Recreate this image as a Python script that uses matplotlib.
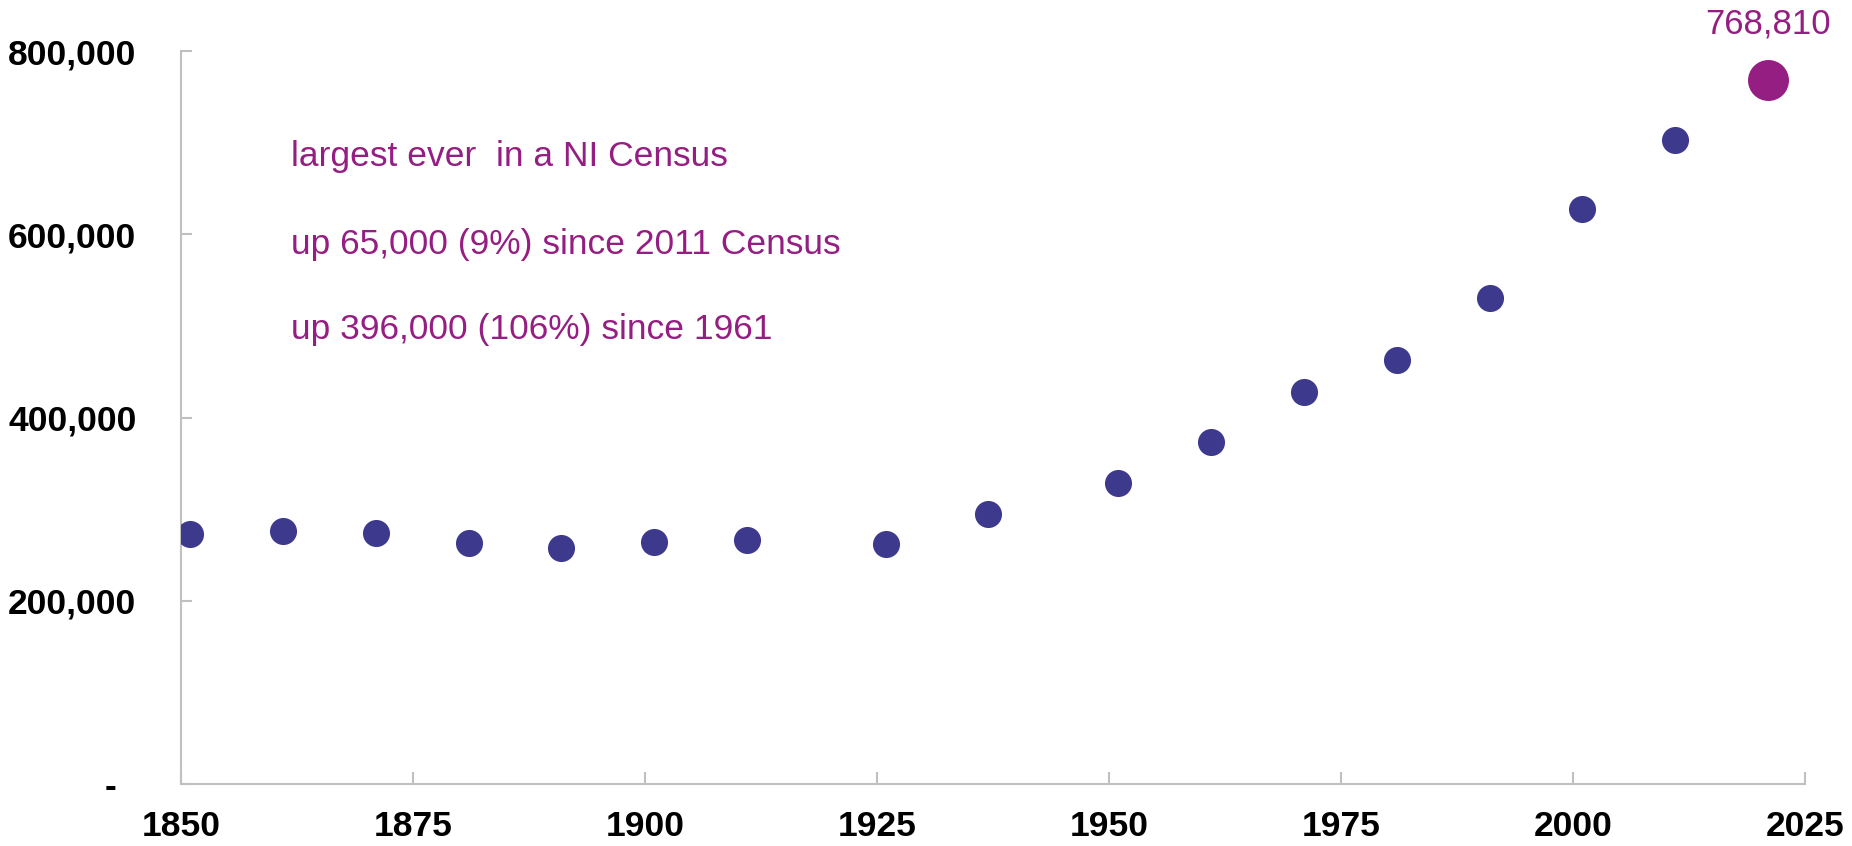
import numpy as np
import matplotlib.pyplot as plt
from matplotlib.ticker import FuncFormatter

plt.rcParams['font.family'] = ['Liberation Sans', 'DejaVu Sans']

# census years and household counts
years = [1851, 1861, 1871, 1881, 1891, 1901, 1911, 1926, 1937,
         1951, 1961, 1971, 1981, 1991, 2001, 2011]
households = [273000, 275600, 274300, 262700, 257600, 264000, 266500, 261400, 294900,
              328500, 372800, 427700, 462500, 530800, 627500, 703300]
latest_year = 2021
latest_value = 768810

notes = ['largest ever  in a NI Census',
         'up 65,000 (9%) since 2011 Census',
         'up 396,000 (106%) since 1961']

blue = '#3d3a8e'
purple = '#951e82'
grey = '#c0c0c0'

fig = plt.figure(figsize=(18.52, 8.46), dpi=100)
ax = fig.add_axes([0.0977, 0.0733, 0.877, 0.8664])

ax.scatter(years, households, s=380, color=blue, zorder=3, linewidths=0)
ax.scatter([latest_year], [latest_value], s=870, color=purple, zorder=3, linewidths=0,
           clip_on=False)
ax.annotate(f'{latest_value:,}', (latest_year, latest_value), xytext=(0, 40),
            textcoords='offset points', ha='center', va='center',
            fontsize=25, color=purple, annotation_clip=False)

# text block on the left
for i, t in enumerate(notes):
    ax.text(0.0675, [0.856, 0.736, 0.62][i], t, transform=ax.transAxes,
            fontsize=25.5, color=purple, va='center', ha='left')

ax.set_xlim(1850, 2025)
ax.set_ylim(0, 800000)
ax.set_xticks(np.arange(1850, 2026, 25))
ax.set_yticks(np.arange(0, 800001, 200000))
ax.yaxis.set_major_formatter(FuncFormatter(lambda v, p: '-  ' if v == 0 else f'{int(v):,}'))

for s in ['top', 'right']:
    ax.spines[s].set_visible(False)
for s in ['left', 'bottom']:
    ax.spines[s].set_color(grey)
    ax.spines[s].set_linewidth(1.5)

ax.tick_params(axis='x', direction='in', length=9, width=1.5, color=grey, pad=19,
               labelsize=25.5)
ax.tick_params(axis='y', direction='in', length=8, width=1.5, color=grey, pad=32,
               labelsize=25.5)
for lab in ax.get_xticklabels() + ax.get_yticklabels():
    lab.set_fontweight('bold')

fig.savefig('out.png', dpi=100)
